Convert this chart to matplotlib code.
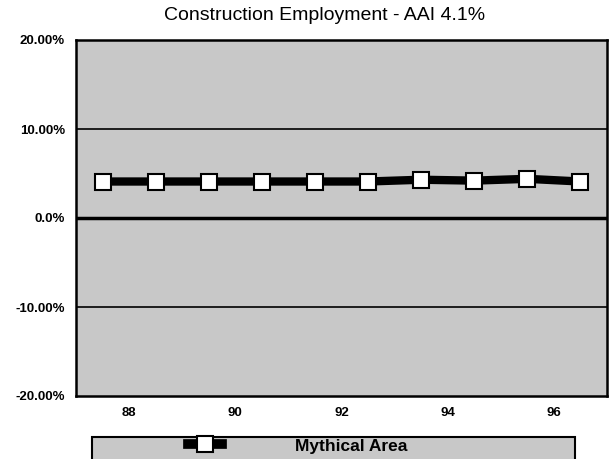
import matplotlib
matplotlib.use("Agg")
import matplotlib.pyplot as plt
from matplotlib.patches import Rectangle
from matplotlib.lines import Line2D

# data
periods = ["88a", "88b", "90a", "90b", "92a", "92b", "94a", "94b", "96a", "96b"]
growth = [4.1, 4.1, 4.1, 4.1, 4.1, 4.1, 4.3, 4.2, 4.4, 4.1]
year_labels = ["88", "90", "92", "94", "96"]
y_ticks = [20, 10, 0, -10, -20]
y_tick_labels = ["20.00%", "10.00%", "0.0%", "-10.00%", "-20.00%"]

plt.rcParams['font.family'] = ['Liberation Sans', 'DejaVu Sans']

fig = plt.figure(figsize=(6.10, 4.59), dpi=100)
ax = fig.add_axes([76/610, 63/459, 531/610, 356/459])
ax.set_facecolor('#c8c8c8')

x = list(range(len(periods)))
ax.plot(x, growth, color='black', lw=6, marker='s', ms=11,
        mfc='white', mec='black', mew=1.5, zorder=5)

# grid lines
for v in y_ticks:
    if v == 0:
        ax.axhline(v, color='black', lw=2.5, zorder=3)
    elif abs(v) < 20:
        ax.axhline(v, color='black', lw=1.2, zorder=3)

ax.set_xlim(-0.5, len(periods) - 0.5)
ax.set_ylim(-20, 20)
ax.set_yticks(y_ticks)
ax.set_yticklabels(y_tick_labels, fontsize=9.5, fontweight='bold')
ax.set_xticks([2 * i + 0.5 for i in range(len(year_labels))])
ax.set_xticklabels(year_labels, fontsize=9.5, fontweight='bold')
ax.tick_params(length=0, pad=8)
for s in ax.spines.values():
    s.set_linewidth(1.8)

fig.text(325/610, 1 - 15/459, "Construction Employment - AAI 4.1%",
         ha='center', va='center', fontsize=14)

# legend box
fig.patches.append(Rectangle((92/610, -0.02), 483/610, 22/459 + 0.02,
                             transform=fig.transFigure, facecolor='#c8c8c8',
                             edgecolor='black', lw=1.5, zorder=0))
handle = Line2D([], [], color='black', lw=7, marker='s', ms=11,
                mfc='white', mec='black', mew=1.5)
fig.legend([handle], ["Mythical Area"], loc='center left',
           bbox_to_anchor=(172/610, 1 - 446/459), frameon=False,
           handlelength=2.0, handletextpad=4.2,
           prop={'size': 12.5, 'weight': 'bold'})

fig.savefig("out.png", dpi=100)
